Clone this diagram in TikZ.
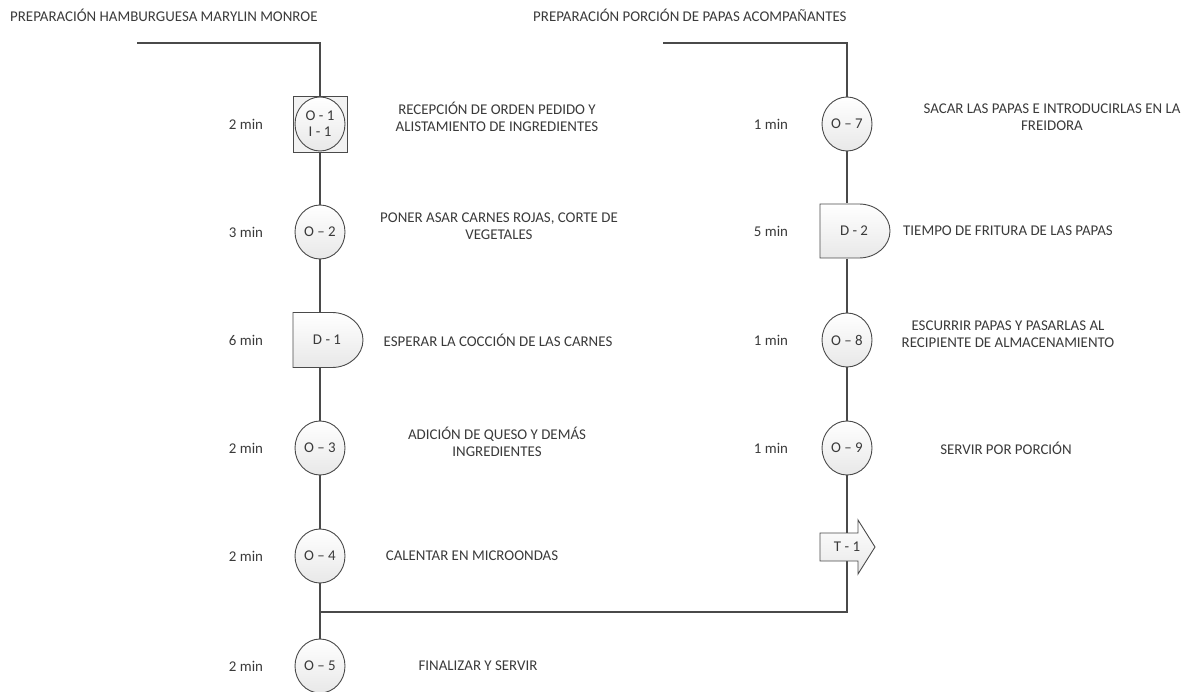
\documentclass[tikz,border=0pt]{standalone}
\usepackage{fontspec}
\setmainfont{Carlito}
\usepackage{tikz}
\usetikzlibrary{shapes.geometric, backgrounds}
\definecolor{ink}{HTML}{3A3A3A}
\definecolor{rule}{HTML}{4A4A4A}

\begin{document}
\begin{tikzpicture}[x=1pt, y=1pt, font=\fontsize{14.9}{17}\selectfont, text=ink]
\tikzstyle{oper}=[ellipse, draw=rule, line width=0.9pt, top color=white, bottom color=gray!18, minimum width=50pt, minimum height=54pt, inner sep=0pt]
\tikzstyle{insp}=[rectangle, draw=rule, line width=0.9pt, fill=gray!10, minimum width=54pt, minimum height=56pt, inner sep=0pt]
\tikzstyle{dshape}=[draw=rule, line width=0.9pt, top color=white, bottom color=gray!18]
\tikzstyle{hold}=[rectangle, minimum width=54pt, minimum height=55pt, inner sep=0pt]
\tikzstyle{mins}=[inner sep=0pt]
\tikzstyle{desc}=[align=center, inner sep=0pt]
\tikzstyle{flow}=[draw=rule, line width=1.1pt]
\useasboundingbox (0,0) rectangle (1196,-692);

% titulos
\node[mins, anchor=west] (titleL) at (10,-15) {PREPARACIÓN HAMBURGUESA MARYLIN MONROE};
\node[mins, anchor=west] (titleR) at (533,-15) {PREPARACIÓN PORCIÓN DE PAPAS ACOMPAÑANTES};

% hamburguesa
\node[insp] (o1) at (320,-124) {};
\node[oper, align=center] (o1c) at (o1) {O - 1\\[-1pt]I - 1};
\node[oper] (o2) at (320,-232) {O -- 2};
\draw[dshape] (293,-312.5) -- ++(39,0) arc[start angle=90, end angle=-90, x radius=31, y radius=27.5] -- ++(-39,0) -- cycle;
\node[hold] (d1) at (320,-340) {\hspace*{14pt}D - 1};
\node[oper] (o3) at (320,-448) {O -- 3};
\node[oper] (o4) at (320,-556) {O -- 4};
\node[oper] (o5) at (320,-666) {O -- 5};

% papas
\node[oper] (o7) at (847,-124) {O -- 7};
\draw[dshape] (820,-204) -- ++(39,0) arc[start angle=90, end angle=-90, x radius=31, y radius=27] -- ++(-39,0) -- cycle;
\node[hold] (d2) at (847,-231) {\hspace*{14pt}D - 2};
\node[oper] (o8) at (847,-340) {O -- 8};
\node[oper] (o9) at (847,-448) {O -- 9};
\draw[dshape] (820,-533) -- (858,-533) -- (858,-520) -- (875,-547) -- (858,-574) -- (858,-561) -- (820,-561) -- cycle;
\node[hold, minimum height=28pt] (t1) at (847,-547) {T - 1};

% tiempos
\node[mins] (m1) at (246,-124) {2 min};
\node[mins] (m2) at (246,-232) {3 min};
\node[mins] (m3) at (246,-340) {6 min};
\node[mins] (m4) at (246,-448) {2 min};
\node[mins] (m5) at (246,-556) {2 min};
\node[mins] (m6) at (246,-666) {2 min};
\node[mins] (m7) at (771,-124) {1 min};
\node[mins] (m8) at (771,-231) {5 min};
\node[mins] (m9) at (771,-340) {1 min};
\node[mins] (m10) at (771,-448) {1 min};

% actividades
\node[desc] (a1) at (497,-117) {RECEPCIÓN DE ORDEN PEDIDO Y\\ALISTAMIENTO DE INGREDIENTES};
\node[desc] (a2) at (499,-226) {PONER ASAR CARNES ROJAS, CORTE DE\\VEGETALES};
\node[desc] (a3) at (498,-340) {ESPERAR LA COCCIÓN DE LAS CARNES};
\node[desc] (a4) at (497,-442) {ADICIÓN DE QUESO Y DEMÁS\\INGREDIENTES};
\node[desc] (a5) at (472,-556) {CALENTAR EN MICROONDAS};
\node[desc] (a6) at (478,-666) {FINALIZAR Y SERVIR};
\node[desc] (a7) at (1052,-117) {SACAR LAS PAPAS E INTRODUCIRLAS EN LA\\FREIDORA};
\node[desc] (a8) at (1008,-231) {TIEMPO DE FRITURA DE LAS PAPAS};
\node[desc] (a9) at (1008,-334) {ESCURRIR PAPAS Y PASARLAS AL\\RECIPIENTE DE ALMACENAMIENTO};
\node[desc] (a10) at (1006,-448) {SERVIR POR PORCIÓN};

\coordinate (sL) at (137,-43);
\coordinate (cL) at (320,-43);
\coordinate (sR) at (663,-43);
\coordinate (cR) at (847,-43);
\coordinate (jL) at (320,-612);
\coordinate (jR) at (847,-612);

\begin{pgfonlayer}{background}
\path[flow] (sL) -- (cL) -- (o1.north);
\path[flow] (sR) -- (cR) -- (o7.north);
\path
(o1) edge[flow] (o2)
(o2) edge[flow] (d1)
(d1) edge[flow] (o3)
(o3) edge[flow] (o4)
(o4) edge[flow] (o5)
(o7) edge[flow] (d2)
(d2) edge[flow] (o8)
(o8) edge[flow] (o9)
(o9) edge[flow] (t1);
\path[flow] (t1.south) -- (jR) -- (jL);
\end{pgfonlayer}

\end{tikzpicture}
\end{document}
